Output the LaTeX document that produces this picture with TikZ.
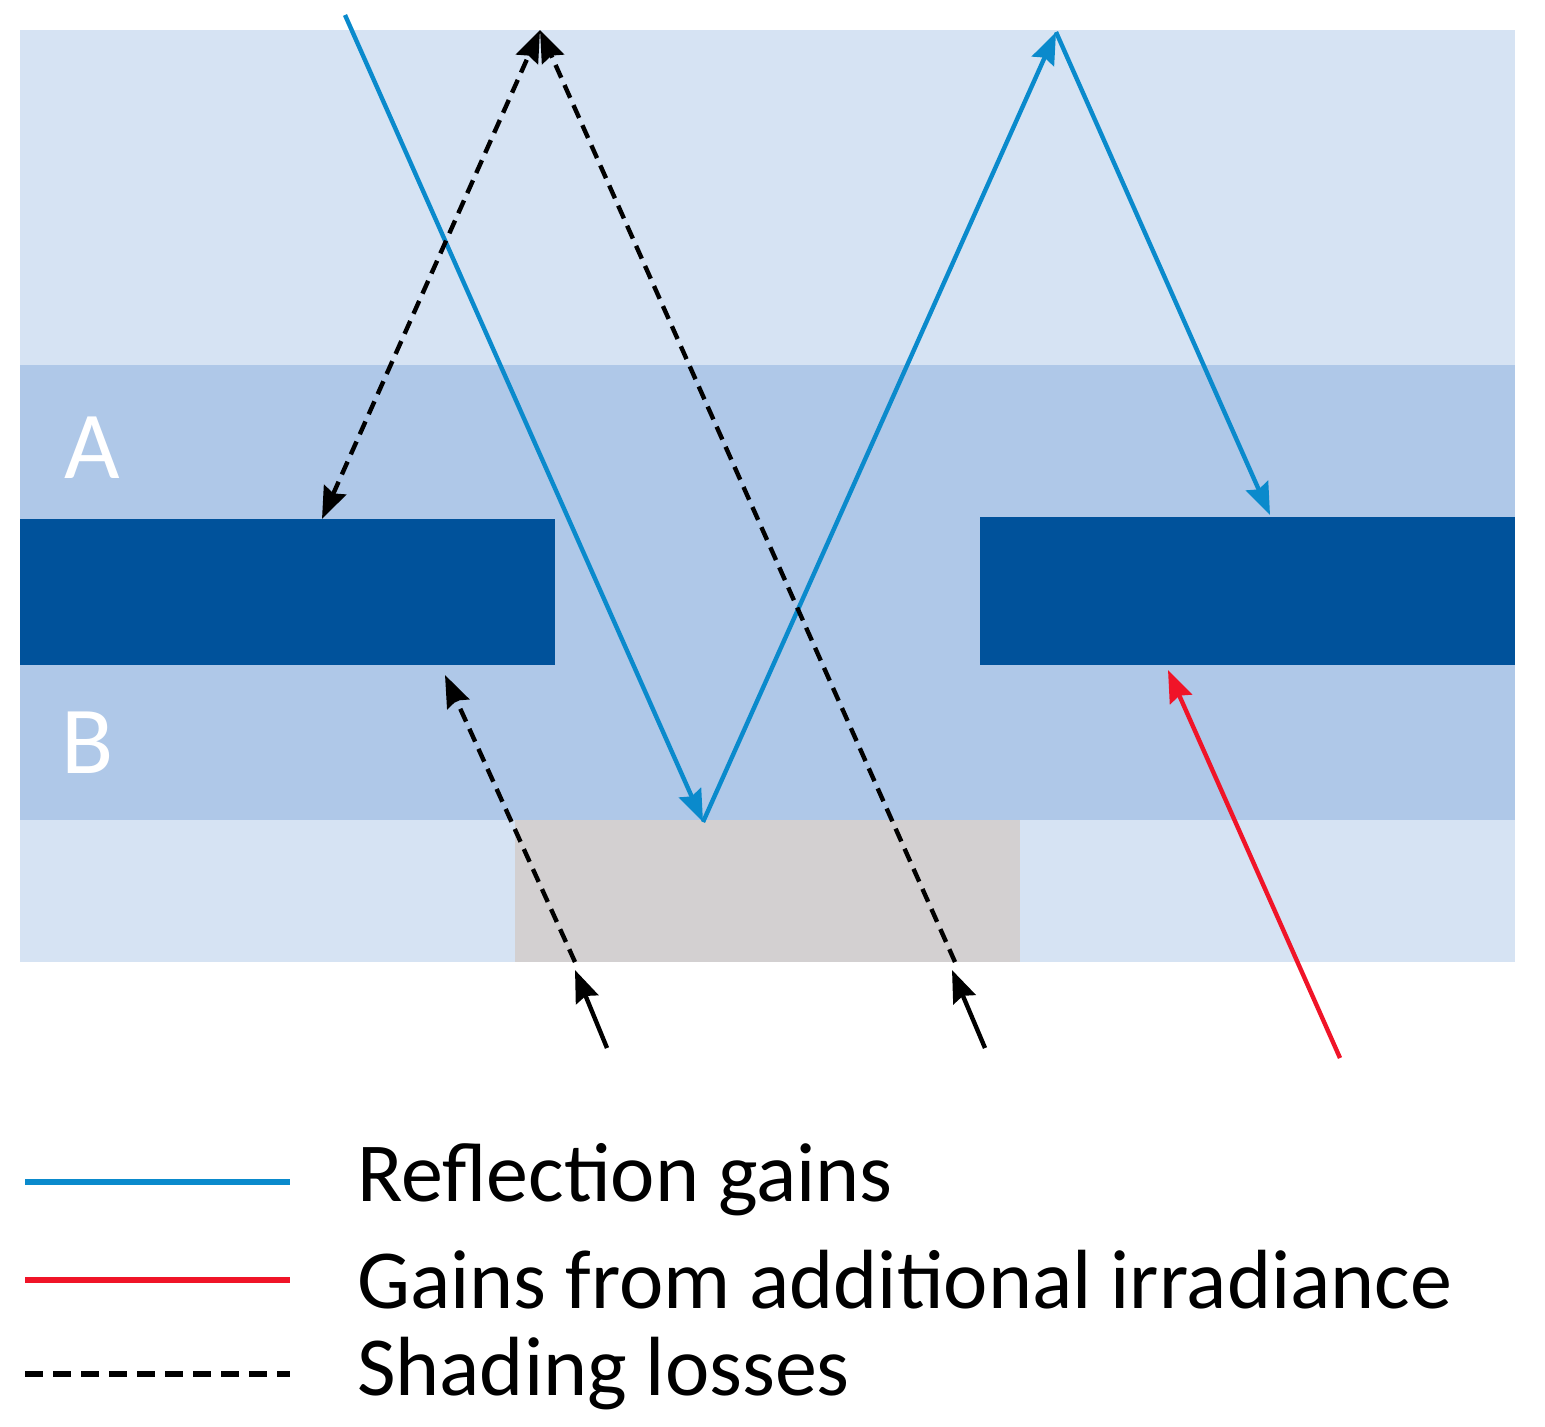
\documentclass[tikz,border=0pt]{standalone}
\usepackage{fontspec}
\setmainfont{Carlito}
\usetikzlibrary{arrows.meta}
\definecolor{lightb}{RGB}{214,227,243}
\definecolor{midb}{RGB}{175,200,232}
\definecolor{darkb}{RGB}{0,82,155}
\definecolor{greyb}{RGB}{211,208,209}
\definecolor{rayb}{RGB}{10,138,204}
\definecolor{rayr}{RGB}{240,20,40}
\begin{document}
\begin{tikzpicture}[x=0.5pt,y=-0.5pt,
  tip/.style={-{Stealth[length=16pt,width=12pt,inset=2pt]}},
  blue ray/.style={rayb,line width=2.2pt,tip},
  red ray/.style={rayr,line width=2.2pt,tip},
  shade/.style={black,line width=2.2pt,dash pattern=on 7pt off 4pt,tip},
  small/.style={black,line width=2.2pt,tip},
  lbl/.style={white,font=\fontsize{48}{54}\selectfont},
  leg/.style={anchor=west,font=\fontsize{42}{48}\selectfont}]
\useasboundingbox (0,0) rectangle (1545,1426);
\fill[lightb] (20,30) rectangle (1515,962);
\fill[midb] (20,365) rectangle (1515,820);
\fill[greyb] (515,820) rectangle (1020,962);
\fill[darkb] (20,519) rectangle (555,665);
\fill[darkb] (980,517) rectangle (1515,665);
\node[lbl] (A) at (92,448) {A};
\node[lbl] (B) at (88,743) {B};
\coordinate (b0) at (345,15);
\coordinate (b1) at (703,822);
\coordinate (b2) at (1056,32);
\coordinate (b3) at (1270,515);
\coordinate (s0) at (540,30);
\coordinate (s1) at (322,519);
\coordinate (s2) at (955,962);
\coordinate (s3) at (575,962);
\coordinate (s4) at (445,675);
\coordinate (t1) at (607,1048);
\coordinate (t1e) at (575,970);
\coordinate (t2) at (985,1048);
\coordinate (t2e) at (952,970);
\coordinate (r0) at (1340,1058);
\coordinate (r1) at (1168,670);
\draw[blue ray] (b0) -- (b1);
\draw[blue ray] (b1) -- (b2);
\draw[blue ray] (b2) -- (b3);
\draw[shade,{Stealth[length=16pt,width=12pt,inset=2pt]}-{Stealth[length=16pt,width=12pt,inset=2pt]}] (s1) -- (s0);
\draw[shade] (s2) -- (s0);
\draw[shade] (s3) -- (s4);
\draw[small] (t1) -- (t1e);
\draw[small] (t2) -- (t2e);
\draw[red ray] (r0) -- (r1);
\coordinate (l1a) at (25,1182); \coordinate (l1b) at (290,1182);
\coordinate (l2a) at (25,1280); \coordinate (l2b) at (290,1280);
\coordinate (l3a) at (25,1374); \coordinate (l3b) at (290,1374);
\draw[rayb,line width=3pt] (l1a) -- (l1b);
\draw[rayr,line width=3pt] (l2a) -- (l2b);
\draw[black,line width=3pt,dash pattern=on 9pt off 5pt] (l3a) -- (l3b);
\node[leg] (t1n) at (350,1180) {Reflection gains};
\node[leg] (t2n) at (350,1280) {Gains from additional irradiance};
\node[leg] (t3n) at (350,1374) {Shading losses};
\end{tikzpicture}
\end{document}
